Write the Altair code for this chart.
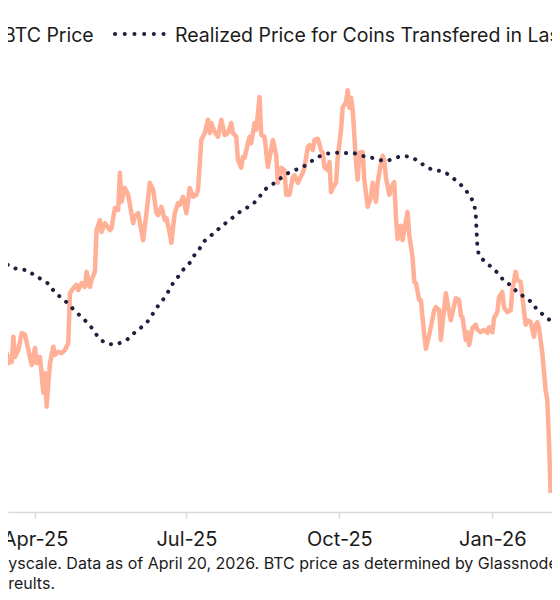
import altair as alt
import pandas as pd

# ---- data (BTC price and realized price, thousands of USD) ----
btc_dates = [
    "2025-03-11", "2025-03-12", "2025-03-13", "2025-03-15", "2025-03-16", "2025-03-17", "2025-03-18",
    "2025-03-19", "2025-03-20", "2025-03-22", "2025-03-24", "2025-03-26", "2025-03-28", "2025-03-30",
    "2025-04-01", "2025-04-02", "2025-04-04", "2025-04-06", "2025-04-07", "2025-04-08", "2025-04-09",
    "2025-04-10", "2025-04-12", "2025-04-13", "2025-04-15", "2025-04-17", "2025-04-19", "2025-04-21",
    "2025-04-22", "2025-04-24", "2025-04-26", "2025-04-27", "2025-04-29", "2025-05-01", "2025-05-02",
    "2025-05-04", "2025-05-05", "2025-05-07", "2025-05-08", "2025-05-10", "2025-05-11", "2025-05-13",
    "2025-05-16", "2025-05-17", "2025-05-19", "2025-05-21", "2025-05-22", "2025-05-23", "2025-05-25",
    "2025-05-27", "2025-05-30", "2025-05-31", "2025-06-02", "2025-06-05", "2025-06-07", "2025-06-09",
    "2025-06-11", "2025-06-13", "2025-06-14", "2025-06-16", "2025-06-18", "2025-06-19", "2025-06-21",
    "2025-06-22", "2025-06-24", "2025-06-26", "2025-06-27", "2025-06-29", "2025-07-01", "2025-07-03",
    "2025-07-05", "2025-07-07", "2025-07-08", "2025-07-10", "2025-07-12", "2025-07-14", "2025-07-15",
    "2025-07-16", "2025-07-18", "2025-07-20", "2025-07-22", "2025-07-24", "2025-07-26", "2025-07-28",
    "2025-07-29", "2025-07-31", "2025-08-01", "2025-08-03", "2025-08-04", "2025-08-05", "2025-08-07",
    "2025-08-08", "2025-08-09", "2025-08-11", "2025-08-12", "2025-08-14", "2025-08-15", "2025-08-17",
    "2025-08-19", "2025-08-22", "2025-08-24", "2025-08-25", "2025-08-27", "2025-08-29", "2025-08-30",
    "2025-09-01", "2025-09-03", "2025-09-04", "2025-09-06", "2025-09-09", "2025-09-10", "2025-09-12",
    "2025-09-13", "2025-09-15", "2025-09-16", "2025-09-18", "2025-09-20", "2025-09-21", "2025-09-22",
    "2025-09-24", "2025-09-25", "2025-09-26", "2025-09-27", "2025-09-29", "2025-09-30", "2025-10-02",
    "2025-10-03", "2025-10-05", "2025-10-06", "2025-10-07", "2025-10-08", "2025-10-09", "2025-10-11",
    "2025-10-12", "2025-10-13", "2025-10-15", "2025-10-16", "2025-10-18", "2025-10-20", "2025-10-21",
    "2025-10-23", "2025-10-24", "2025-10-25", "2025-10-27", "2025-10-28", "2025-10-29", "2025-10-31",
    "2025-11-02", "2025-11-03", "2025-11-04", "2025-11-05", "2025-11-07", "2025-11-08", "2025-11-09",
    "2025-11-11", "2025-11-12", "2025-11-14", "2025-11-15", "2025-11-16", "2025-11-18", "2025-11-19",
    "2025-11-21", "2025-11-22", "2025-11-24", "2025-11-25", "2025-11-27", "2025-11-28", "2025-11-30",
    "2025-12-01", "2025-12-04", "2025-12-05", "2025-12-07", "2025-12-08", "2025-12-10", "2025-12-12",
    "2025-12-13", "2025-12-14", "2025-12-16", "2025-12-17", "2025-12-18", "2025-12-20", "2025-12-22",
    "2025-12-23", "2025-12-25", "2025-12-27", "2025-12-29", "2025-12-30", "2026-01-01", "2026-01-02",
    "2026-01-04", "2026-01-05", "2026-01-07", "2026-01-08", "2026-01-10", "2026-01-12", "2026-01-13",
    "2026-01-15", "2026-01-16", "2026-01-18", "2026-01-19", "2026-01-21", "2026-01-22", "2026-01-24",
    "2026-01-26", "2026-01-27", "2026-01-28", "2026-01-29", "2026-01-31", "2026-02-02", "2026-02-03",
    "2026-02-04", "2026-02-05",
]
btc_values = [
    77.8, 82.1, 80.0, 83.2, 81.6, 82.6, 81.8,
    85.8, 82.6, 83.7, 86.4, 86.1, 83.7, 81.3,
    84.0, 81.6, 82.6, 76.9, 80.0, 74.7, 78.5,
    81.6, 84.2, 82.9, 83.4, 83.2, 83.7, 84.8,
    92.7, 93.5, 94.0, 93.2, 94.3, 93.7, 96.1,
    93.7, 94.8, 96.1, 102.7, 104.3, 102.4, 103.8,
    102.7, 103.0, 106.2, 105.9, 111.8, 107.2, 109.4,
    108.3, 103.8, 104.9, 105.4, 101.1, 105.4, 110.2,
    109.1, 105.4, 105.1, 106.4, 104.3, 104.6, 102.2,
    100.7, 105.4, 107.0, 106.7, 108.0, 105.4, 109.4,
    108.0, 108.3, 109.1, 117.0, 118.1, 120.2, 118.1,
    119.7, 118.3, 117.5, 120.2, 117.8, 118.1, 119.7,
    118.1, 117.5, 113.8, 112.6, 114.3, 114.2, 116.5,
    117.5, 116.5, 119.7, 118.6, 123.8, 117.8, 117.5,
    112.7, 117.0, 114.6, 110.2, 112.6, 112.2, 108.3,
    108.3, 111.1, 111.4, 110.2, 111.8, 112.6, 115.9,
    116.2, 115.4, 117.0, 117.2, 115.4, 114.9, 112.7,
    112.2, 113.5, 108.7, 109.4, 110.2, 114.2, 118.6,
    122.2, 123.0, 124.9, 122.1, 123.7, 121.8, 113.5,
    110.7, 114.9, 115.1, 110.7, 106.4, 108.0, 110.2,
    107.2, 110.2, 111.8, 114.5, 113.8, 111.0, 108.3,
    109.9, 110.3, 104.8, 101.3, 103.4, 101.1, 102.7,
    105.6, 101.9, 98.4, 94.5, 94.3, 91.6, 91.6,
    86.1, 83.9, 86.1, 87.3, 90.0, 90.5, 90.0,
    85.3, 92.7, 91.1, 88.4, 89.6, 91.9, 91.6,
    89.2, 88.9, 85.3, 86.5, 84.5, 87.2, 87.7,
    86.9, 86.5, 86.9, 86.4, 87.3, 86.5, 88.8,
    89.7, 92.1, 92.9, 90.4, 89.7, 90.0, 93.2,
    96.1, 94.8, 94.5, 92.1, 87.7, 88.4, 88.1,
    85.8, 87.7, 88.1, 87.3, 83.2, 77.3, 75.8,
    69.4, 61.0,
]

rp_dates = [
    "2025-03-11", "2025-03-13", "2025-03-18", "2025-03-23", "2025-03-28", "2025-04-01", "2025-04-06",
    "2025-04-10", "2025-04-13", "2025-04-17", "2025-04-21", "2025-04-25", "2025-04-29", "2025-05-03",
    "2025-05-06", "2025-05-09", "2025-05-13", "2025-05-19", "2025-05-23", "2025-05-28", "2025-05-31",
    "2025-06-04", "2025-06-08", "2025-06-11", "2025-06-14", "2025-06-17", "2025-06-20", "2025-06-23",
    "2025-06-26", "2025-06-29", "2025-07-03", "2025-07-06", "2025-07-09", "2025-07-12", "2025-07-16",
    "2025-07-20", "2025-07-24", "2025-07-28", "2025-08-01", "2025-08-06", "2025-08-10", "2025-08-14",
    "2025-08-17", "2025-08-22", "2025-08-26", "2025-08-30", "2025-09-04", "2025-09-09", "2025-09-13",
    "2025-09-18", "2025-09-23", "2025-09-28", "2025-10-04", "2025-10-09", "2025-10-14", "2025-10-19",
    "2025-10-24", "2025-10-29", "2025-11-03", "2025-11-08", "2025-11-13", "2025-11-18", "2025-11-22",
    "2025-11-27", "2025-12-03", "2025-12-07", "2025-12-11", "2025-12-15", "2025-12-18", "2025-12-21",
    "2025-12-22", "2025-12-23", "2025-12-24", "2025-12-28", "2026-01-01", "2026-01-05", "2026-01-08",
    "2026-01-13", "2026-01-16", "2026-01-21", "2026-01-25", "2026-01-28", "2026-02-01", "2026-02-05",
    "2026-02-07",
]
rp_values = [
    98.0, 97.7, 96.7, 96.5, 96.3, 95.4, 94.8,
    94.0, 92.7, 92.0, 91.0, 89.9, 88.9, 87.9,
    86.9, 85.7, 84.8, 84.5, 84.9, 85.6, 86.5,
    87.3, 88.3, 89.5, 90.7, 91.7, 92.9, 94.3,
    95.3, 96.4, 97.5, 98.8, 99.8, 101.0, 101.9,
    102.8, 103.7, 104.5, 105.4, 106.2, 106.8, 108.0,
    109.1, 110.0, 110.8, 111.6, 112.2, 112.7, 113.4,
    114.3, 114.8, 115.0, 114.9, 115.0, 114.5, 114.3,
    113.9, 113.6, 114.1, 114.5, 114.3, 113.6, 112.7,
    112.2, 112.0, 111.2, 110.4, 109.4, 108.3, 107.0,
    105.1, 99.9, 98.6, 97.6, 96.7, 95.7, 94.6,
    93.8, 92.8, 92.0, 91.2, 90.0, 89.2, 88.3,
    88.1,
]

series_names = ["BTC Price", "Realized Price for Coins Transfered in Last 155 Days"]
footnote_line1 = ("Source: Glassnode, Grayscale. Data as of April 20, 2026. "
                  "BTC price as determined by Glassnode, which may differ from other sources.")
footnote_line2 = "Past performance is not indicative of future reults."

SALMON = "#FFB097"
NAVY = "#221E40"
TEXT = "#1b1b1b"
FONT = "Inter"

btc = pd.DataFrame({"date": btc_dates, "price": btc_values})
rp = pd.DataFrame({"date": rp_dates, "price": rp_values})

x_scale = alt.Scale(domain=[alt.DateTime(year=2025, month=3, date=15, hours=18),
                            alt.DateTime(year=2026, month=2, date=5, hours=20)])
x_axis = alt.Axis(
    values=[alt.DateTime(year=2025, month=4, date=1), alt.DateTime(year=2025, month=7, date=1),
            alt.DateTime(year=2025, month=10, date=1), alt.DateTime(year=2026, month=1, date=1)],
    format="%b-%y", title=None, grid=False,
    labelFont=FONT, labelFontSize=20, labelColor=TEXT, labelPadding=11,
    domainColor="#d9d9d9", domainWidth=1.5, tickColor="#d9d9d9", tickWidth=1.5, tickSize=6,
)
y_scale = alt.Scale(domain=[58, 130], nice=False, zero=False)

btc_line = alt.Chart(btc).mark_line(color=SALMON, strokeWidth=4.5, strokeJoin="round").encode(
    x=alt.X("date:T", scale=x_scale, axis=x_axis),
    y=alt.Y("price:Q", scale=y_scale, axis=None),
)
rp_line = alt.Chart(rp).mark_line(color=NAVY, strokeWidth=4, strokeDash=[0.1, 8.9],
                                  strokeCap="round").encode(
    x=alt.X("date:T", scale=x_scale, axis=x_axis),
    y=alt.Y("price:Q", scale=y_scale, axis=None),
)

one = pd.DataFrame({"k": [0]})
leg_btc_sym = alt.Chart(one).mark_rule(color=SALMON, strokeWidth=4.5).encode(
    x=alt.value(-70), x2=alt.value(-20), y=alt.value(-24))
leg_rp_sym = alt.Chart(one).mark_rule(color=NAVY, strokeWidth=4, strokeDash=[0.1, 9.6],
                                      strokeCap="round").encode(
    x=alt.value(107), x2=alt.value(156), y=alt.value(-24))
leg_btc_txt = alt.Chart(pd.DataFrame({"t": [series_names[0]]})).mark_text(
    align="left", baseline="middle", font=FONT, fontSize=19.5, color=TEXT).encode(
    x=alt.value(-5), y=alt.value(-22), text="t:N")
leg_rp_txt = alt.Chart(pd.DataFrame({"t": [series_names[1]]})).mark_text(
    align="left", baseline="middle", font=FONT, fontSize=19.5, color=TEXT).encode(
    x=alt.value(167), y=alt.value(-22), text="t:N")

foot1 = alt.Chart(pd.DataFrame({"t": [footnote_line1]})).mark_text(
    align="left", baseline="middle", font=FONT, fontSize=16, color=TEXT).encode(
    x=alt.value(-178), y=alt.value(505.5), text="t:N")
foot2 = alt.Chart(pd.DataFrame({"t": [footnote_line2]})).mark_text(
    align="right", baseline="middle", font=FONT, fontSize=16, color=TEXT).encode(
    x=alt.value(47), y=alt.value(525.5), text="t:N")

chart = alt.layer(
    btc_line, rp_line, leg_btc_sym, leg_rp_sym, leg_btc_txt, leg_rp_txt, foot1, foot2
).properties(
    width=544, height=454,
    padding={"left": 0, "top": 50, "right": 0, "bottom": 80},
    autosize=alt.AutoSizeParams(type="none"),
    background="white",
).configure(font=FONT).configure_view(stroke=None)

chart.save("out.html", embed_options={"renderer": "svg", "actions": False})
